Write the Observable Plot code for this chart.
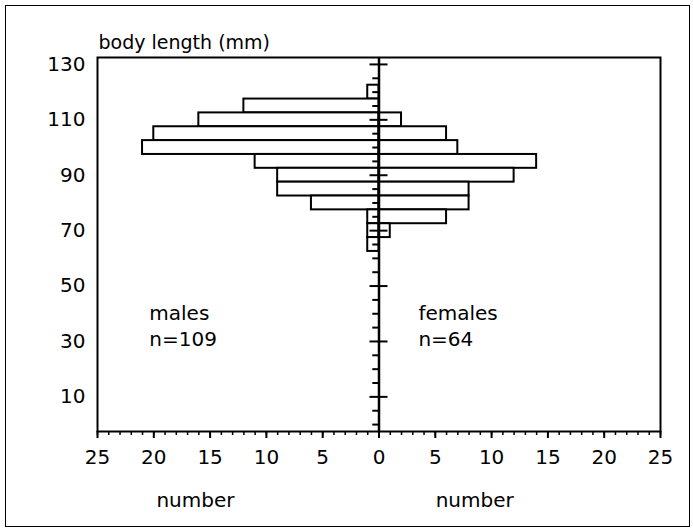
<!DOCTYPE html>
<html><head><meta charset="utf-8">
<script src="https://cdn.jsdelivr.net/npm/d3@7"></script>
<script src="https://cdn.jsdelivr.net/npm/@observablehq/plot@0.6"></script>
<style>
body{margin:0;background:#fff;}
#wrap{position:relative;width:693px;height:529px;}
#wrap svg{position:absolute;left:0;top:0;}
#border{position:absolute;left:5px;top:5px;width:683px;height:520px;border:1.5px solid #000;pointer-events:none;}
</style></head><body>
<div id="wrap"><div id="border"></div></div>
<script>
// bins of body length (mm), centre values, 5 mm wide
const binCenters = [120, 115, 110, 105, 100, 95, 90, 85, 80, 75, 70, 65];
const males   = [1, 12, 16, 20, 21, 11, 9, 9, 6, 1, 1, 1];
const females = [0, 0, 2, 6, 7, 14, 12, 8, 8, 6, 1, 0];
const binWidth = 5;
const yTicks = [10, 30, 50, 70, 90, 110, 130];
const xTicks = [-25, -20, -15, -10, -5, 0, 5, 10, 15, 20, 25];
const yLabel = "body length (mm)";
const xLabel = "number";
const groupLabels = ["males\nn=109", "females\nn=64"];

const maleRects = binCenters.map((c, i) => ({y1: c - binWidth / 2, y2: c + binWidth / 2, x1: 0, x2: -males[i]})).filter(d => d.x2 !== 0);
const femaleRects = binCenters.map((c, i) => ({y1: c - binWidth / 2, y2: c + binWidth / 2, x1: 0, x2: females[i]})).filter(d => d.x2 !== 0);
const centerMajor = yTicks;
const centerMinor = d3.range(0, 131, 5).filter(v => !yTicks.includes(v));
const minorX = d3.range(-25, 26, 1);

const font = "DejaVu Sans";
const chart = Plot.plot({
  width: 693,
  height: 529,
  marginLeft: 97,
  marginRight: 33,
  marginTop: 57,
  marginBottom: 98,
  style: {fontFamily: font, fontSize: "20px", background: "transparent", color: "#000"},
  x: {domain: [-25, 25]},
  y: {domain: [-2.5, 132.5]},
  marks: [
    Plot.rect(maleRects, {x1: "x1", x2: "x2", y1: "y1", y2: "y2", fill: "white", stroke: "black", strokeWidth: 2}),
    Plot.rect(femaleRects, {x1: "x1", x2: "x2", y1: "y1", y2: "y2", fill: "white", stroke: "black", strokeWidth: 2}),
    Plot.ruleX([0], {stroke: "black", strokeWidth: 2.5}),
    Plot.ruleY(centerMajor, {x1: -0.8, x2: 0.8, stroke: "black", strokeWidth: 2}),
    Plot.ruleY(centerMinor, {x1: -0.55, x2: 0, stroke: "black", strokeWidth: 2}),
    Plot.frame({stroke: "black", strokeWidth: 2}),
    Plot.axisY({ticks: yTicks, tickSize: 0, tickPadding: 12, fontSize: 20, label: null}),
    Plot.axisX({ticks: xTicks, tickSize: 7, tickPadding: 11, strokeWidth: 2, fontSize: 20, tickFormat: d => Math.abs(d), label: null}),
    Plot.axisX({ticks: minorX, tickSize: 4, strokeWidth: 1.5, tickFormat: () => "", label: null}),
    Plot.text([yLabel], {frameAnchor: "top-left", lineAnchor: "middle", dx: 1, dy: -15, textAnchor: "start", fontSize: 19}),
    Plot.text(groupLabels, {x: (d, i) => (i === 0 ? -20.4 : 3.5), y: 36, text: d => d, textAnchor: "start", lineHeight: 1.3, fontSize: 20}),
    Plot.text([xLabel, xLabel], {x: (d, i) => (i === 0 ? -16.3 : 8.5), frameAnchor: "bottom", lineAnchor: "middle", dy: 69, fontSize: 20})
  ]
});
document.getElementById("wrap").appendChild(chart);
</script>
</body></html>
